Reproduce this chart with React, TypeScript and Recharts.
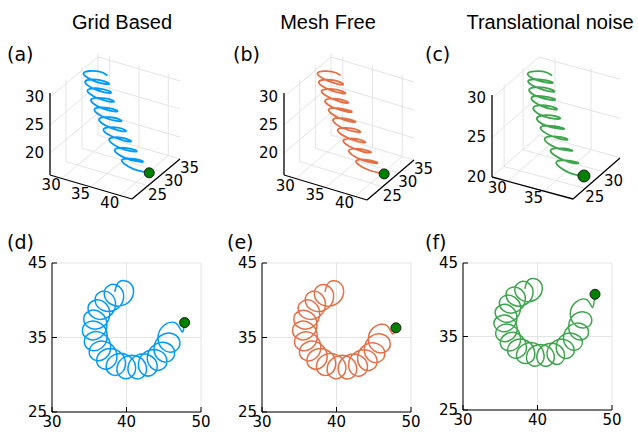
import {
  CartesianGrid,
  ComposedChart,
  Line,
  ReferenceDot,
  Scatter,
  XAxis,
  YAxis,
} from 'recharts';

const WIDTH = 638;
const HEIGHT = 434;
const TOP_HEIGHT = 215;

const TICK_FONT = '"DejaVu Sans", sans-serif';
const TITLE_FONT = '"Liberation Sans", Arial, sans-serif';

const BLUE = '#009afa';
const ORANGE = '#e36f47';
const GREEN = '#3ea44e';
const MARKER = '#008000';
const GRID = '#e4e4e4';

const titles = ['Grid Based', 'Mesh Free', 'Translational noise'];
const topLetters = ['(a)', '(b)', '(c)'];
const bottomLetters = ['(d)', '(e)', '(f)'];

// 3D tick values
const zTicks3d = [20, 25, 30];
const xTicksAB = [30, 35, 40];
const yTicksAB = [25, 30, 35];
const xTicksC = [30, 35];
const yTicksC = [25, 30];

// plan view ticks
const planXTicks = [30, 40, 50];
const planYTicks = [25, 35, 45];

// grid based trajectory (x, y, z)
const gridX = [
  32.0, 30.0, 28.0, 30.1, 32.3, 30.3, 28.3, 30.5, 32.7, 30.8, 28.8, 31.1,
  33.3, 31.4, 29.5, 31.7, 34.0, 32.1, 30.2, 32.5, 34.8, 32.9, 31.1, 33.4,
  35.7, 33.9, 32.0, 34.4, 36.7, 34.9, 33.1, 35.4, 37.8, 36.0, 34.2, 36.6,
  39.0, 37.2, 35.5, 37.9, 40.3,
];
const gridY = [
  30.6, 31.5, 30.6, 29.6, 30.5, 31.4, 30.5, 29.5, 30.4, 31.3, 30.3, 29.4,
  30.2, 31.1, 30.1, 29.2, 30.0, 30.9, 29.9, 29.0, 29.8, 30.6, 29.7, 28.7,
  29.5, 30.4, 29.4, 28.5, 29.3, 30.1, 29.2, 28.2, 29.0, 29.9, 28.9, 28.0,
  28.8, 29.6, 28.7, 27.7, 28.5,
];
const gridZ = [
  30.0, 29.7, 29.3, 29.0, 28.6, 28.3, 27.9, 27.6, 27.2, 26.9, 26.6, 26.2,
  25.9, 25.5, 25.2, 24.8, 24.5, 24.1, 23.8, 23.4, 23.1, 22.8, 22.4, 22.1,
  21.7, 21.4, 21.0, 20.7, 20.3, 20.0, 19.7, 19.3, 19.0, 18.6, 18.3, 17.9,
  17.6, 17.2, 16.9, 16.6, 16.2,
];

// mesh free trajectory
const meshX = [
  31.9, 30.0, 28.1, 30.2, 32.4, 30.3, 28.4, 30.6, 32.8, 30.9, 28.9, 31.2,
  33.4, 31.5, 29.6, 31.8, 34.1, 32.2, 30.3, 32.6, 34.9, 33.0, 31.2, 33.5,
  35.8, 34.0, 32.1, 34.5, 36.8, 35.0, 33.2, 35.5, 37.9, 36.1, 34.3, 36.7,
  39.1, 37.3, 35.6, 38.0, 40.4,
];
const meshY = [
  30.7, 31.5, 30.6, 29.7, 30.5, 31.4, 30.4, 29.5, 30.4, 31.2, 30.3, 29.4,
  30.2, 31.0, 30.1, 29.2, 30.0, 30.8, 29.9, 29.0, 29.7, 30.5, 29.6, 28.7,
  29.5, 30.3, 29.4, 28.4, 29.2, 30.0, 29.1, 28.2, 28.9, 29.8, 28.8, 27.9,
  28.7, 29.5, 28.6, 27.7, 28.5,
];
const meshZ = [
  30.0, 29.7, 29.3, 29.0, 28.6, 28.3, 27.9, 27.6, 27.2, 26.9, 26.5, 26.2,
  25.8, 25.5, 25.1, 24.8, 24.5, 24.1, 23.8, 23.4, 23.1, 22.7, 22.4, 22.0,
  21.7, 21.4, 21.0, 20.7, 20.3, 20.0, 19.6, 19.3, 19.0, 18.6, 18.3, 17.9,
  17.6, 17.2, 16.9, 16.6, 16.2,
];

// translational noise trajectory
const noiseX = [
  31.4, 29.7, 28.1, 29.8, 31.5, 29.9, 28.2, 30.0, 31.8, 30.1, 28.4, 30.2,
  32.0, 30.3, 28.8, 30.7, 32.4, 30.9, 29.3, 31.1, 33.0, 31.5, 30.0, 31.8,
  33.8, 32.2, 30.7, 32.6, 34.5, 33.2, 31.6, 33.5, 35.5, 34.1, 32.7, 34.8,
  36.7, 35.4, 33.9, 36.1, 38.0,
];
const noiseY = [
  30.8, 31.5, 30.7, 30.0, 30.7, 31.4, 30.6, 29.9, 30.6, 31.3, 30.5, 29.7,
  30.4, 31.1, 30.3, 29.4, 30.1, 30.8, 29.9, 29.0, 29.8, 30.4, 29.5, 28.6,
  29.3, 29.9, 29.1, 28.2, 28.8, 29.4, 28.5, 27.6, 28.2, 28.8, 27.9, 26.9,
  27.5, 28.0, 27.1, 26.1, 26.6,
];
const noiseZ = [
  30.0, 29.8, 29.5, 29.3, 29.1, 28.8, 28.6, 28.4, 28.1, 27.9, 27.6, 27.4,
  27.2, 26.9, 26.7, 26.5, 26.2, 26.0, 25.8, 25.5, 25.3, 25.1, 24.8, 24.6,
  24.4, 24.1, 23.9, 23.7, 23.4, 23.2, 23.0, 22.7, 22.5, 22.2, 22.0, 21.8,
  21.5, 21.3, 21.1, 20.8, 20.6,
];

// plan views (x, y), six samples per loop
const gridPlanX = [
  38.43, 39.0, 40.36, 40.93, 39.89, 38.05, 37.02, 37.62, 39.01, 39.61, 38.6, 36.8,
  35.79, 36.43, 37.87, 38.52, 37.56, 35.8, 34.84, 35.54, 37.05, 37.75, 36.85, 35.16,
  34.26, 35.03, 36.6, 37.37, 36.54, 34.91, 34.08, 34.92, 36.57, 37.41, 36.65, 35.1,
  34.34, 35.25, 36.96, 37.87, 37.18, 35.69, 35.0, 35.97, 37.74, 38.71, 38.07, 36.64,
  36.01, 37.02, 38.84, 39.85, 39.26, 37.88, 37.29, 38.33, 40.17, 41.21, 40.65, 39.29,
  38.73, 39.78, 41.62, 42.67, 42.12, 40.76, 40.21, 41.24, 43.08, 44.11, 43.54, 42.18,
  41.61, 42.61, 44.41, 45.41, 44.8, 43.4, 42.8, 43.75, 45.5, 46.45, 45.8, 44.35,
  43.7, 44.59, 46.28, 47.17, 46.45, 44.94, 44.23, 45.05, 46.67, 47.48, 47.8,
];
const gridPlanY = [
  41.14, 42.46, 42.39, 40.93, 39.47, 39.39, 40.71, 41.97, 41.83, 40.31, 38.78, 38.65,
  39.9, 41.1, 40.91, 39.34, 37.76, 37.57, 38.77, 39.93, 39.71, 38.09, 36.47, 36.25,
  37.41, 38.56, 38.31, 36.68, 35.05, 34.8, 35.95, 37.1, 36.85, 35.22, 33.59, 33.34,
  34.49, 35.66, 35.44, 33.83, 32.22, 32.0, 33.17, 34.38, 34.2, 32.63, 31.06, 30.88,
  32.09, 33.36, 33.23, 31.72, 30.2, 30.08, 31.34, 32.67, 32.61, 31.17, 29.72, 29.66,
  30.99, 32.39, 32.41, 31.03, 29.65, 29.67, 31.07, 32.54, 32.62, 31.32, 30.01, 30.09,
  31.56, 33.1, 33.24, 32.0, 30.75, 30.9, 32.43, 34.02, 34.22, 33.03, 31.83, 32.03,
  33.62, 35.24, 35.47, 34.31, 33.16, 33.39, 35.0, 36.64, 36.89, 35.74, 37.0,
];
const meshPlanX = [
  38.45, 39.03, 40.38, 40.94, 39.9, 38.07, 37.04, 37.63, 39.02, 39.6, 38.61, 36.82,
  35.81, 36.44, 37.86, 38.51, 37.57, 35.82, 34.86, 35.55, 37.04, 37.74, 36.86, 35.18,
  34.27, 35.04, 36.61, 37.38, 36.55, 34.93, 34.1, 34.93, 36.58, 37.43, 36.67, 35.12,
  34.37, 35.28, 36.98, 37.89, 37.21, 35.72, 35.03, 36.0, 37.77, 38.74, 38.1, 36.67,
  36.04, 37.05, 38.87, 39.88, 39.29, 37.91, 37.32, 38.36, 40.2, 41.24, 40.68, 39.32,
  38.76, 39.81, 41.65, 42.7, 42.15, 40.79, 40.24, 41.27, 43.11, 44.14, 43.57, 42.21,
  41.64, 42.64, 44.44, 45.44, 44.83, 43.43, 42.83, 43.78, 45.53, 46.48, 45.83, 44.38,
  43.74, 44.63, 46.32, 47.21, 46.49, 44.98, 44.28, 45.1, 46.72, 47.52, 47.98,
];
const meshPlanY = [
  41.13, 42.45, 42.38, 40.92, 39.46, 39.38, 40.7, 41.96, 41.82, 40.3, 38.77, 38.64,
  39.89, 41.09, 40.9, 39.33, 37.75, 37.56, 38.76, 39.92, 39.7, 38.08, 36.46, 36.24,
  37.4, 38.55, 38.3, 36.67, 35.04, 34.79, 35.94, 37.09, 36.84, 35.21, 33.58, 33.33,
  34.48, 35.65, 35.43, 33.82, 32.21, 31.99, 33.16, 34.37, 34.19, 32.62, 31.05, 30.87,
  32.08, 33.35, 33.22, 31.71, 30.19, 30.07, 31.33, 32.66, 32.6, 31.16, 29.71, 29.65,
  30.98, 32.38, 32.4, 31.02, 29.64, 29.66, 31.05, 32.52, 32.6, 31.3, 29.99, 30.07,
  31.53, 33.07, 33.2, 31.96, 30.71, 30.86, 32.38, 33.96, 34.15, 32.96, 31.76, 31.95,
  33.53, 35.14, 35.36, 34.2, 33.05, 33.27, 34.85, 36.42, 36.62, 35.5, 36.3,
];
const noisePlanX = [
  38.3, 38.83, 40.11, 40.63, 39.66, 37.94, 36.97, 37.53, 38.83, 39.39, 38.44, 36.75,
  35.8, 36.3, 37.75, 38.35, 37.44, 35.79, 34.89, 35.55, 36.95, 37.73, 36.76, 35.17,
  34.32, 35.04, 36.51, 37.24, 36.46, 34.93, 34.15, 34.94, 36.38, 37.27, 36.56, 35.1,
  34.39, 35.24, 36.85, 37.71, 37.18, 35.67, 35.02, 35.93, 37.59, 38.51, 37.92, 36.58,
  35.99, 36.94, 38.64, 39.6, 39.17, 37.75, 37.2, 38.17, 39.9, 40.87, 40.34, 39.07,
  38.54, 39.52, 41.25, 42.24, 41.72, 40.45, 39.93, 40.91, 42.63, 43.61, 43.09, 41.81,
  41.29, 42.25, 43.95, 44.91, 44.37, 43.07, 42.53, 43.44, 45.1, 46.01, 45.42, 44.08,
  43.49, 44.36, 45.97, 46.84, 46.2, 44.82, 44.18, 44.97, 46.5, 47.29, 46.58, 45.12,
  44.4, 45.15, 46.65, 47.4, 47.72,
];
const noisePlanY = [
  41.48, 42.73, 42.67, 41.32, 39.97, 39.91, 41.16, 42.34, 42.23, 40.81, 39.39, 39.28,
  40.46, 41.59, 41.42, 39.95, 38.48, 38.31, 39.44, 40.53, 40.32, 38.82, 37.19, 37.1,
  38.19, 39.26, 39.04, 37.51, 35.98, 35.76, 36.83, 37.79, 37.68, 36.16, 34.63, 34.41,
  35.48, 36.58, 36.38, 34.88, 33.37, 33.17, 34.27, 35.41, 35.25, 33.67, 32.32, 32.16,
  33.3, 34.49, 34.39, 32.98, 31.57, 31.47, 32.66, 33.92, 33.99, 32.53, 31.19, 31.14,
  32.4, 33.71, 33.72, 32.44, 31.15, 31.16, 32.47, 33.84, 33.92, 32.69, 31.34, 31.54,
  32.91, 34.35, 34.48, 33.32, 32.16, 32.29, 33.73, 35.23, 35.31, 34.34, 33.24, 33.44,
  34.94, 36.49, 36.73, 35.68, 34.63, 34.87, 36.42, 38.0, 38.28, 37.26, 36.24, 36.52,
  38.1, 39.68, 39.97, 38.95, 40.74,
];

type P3 = [number, number, number];

interface Box3D {
  // screen position of the (xmin, ymin, zmin) corner and the screen
  // vectors spanned by each full axis range
  origin: [number, number];
  ex: [number, number];
  ey: [number, number];
  ez: [number, number];
  xRange: [number, number];
  yRange: [number, number];
  zRange: [number, number];
  xTicks: number[];
  yTicks: number[];
  zTicks: number[];
}

interface Panel3D {
  box: Box3D;
  xs: number[];
  ys: number[];
  zs: number[];
  color: string;
  markerR: number;
}

const boxA: Box3D = {
  origin: [50, 175],
  ex: [82, 24],
  ey: [48, -40],
  ez: [0, -82],
  xRange: [28, 42],
  yRange: [20, 35],
  zRange: [16.1, 30.7],
  xTicks: xTicksAB,
  yTicks: yTicksAB,
  zTicks: zTicks3d,
};
const boxB: Box3D = { ...boxA, origin: [284, 175], ex: [83, 25], ey: [47, -40] };
const boxC: Box3D = {
  origin: [492, 177],
  ex: [81, 22],
  ey: [47, -41],
  ez: [0, -82],
  xRange: [27.8, 39.0],
  yRange: [21.8, 34.2],
  zRange: [19.94, 30.4],
  xTicks: xTicksC,
  yTicks: yTicksC,
  zTicks: zTicks3d,
};

const panels3d: Panel3D[] = [
  { box: boxA, xs: gridX, ys: gridY, zs: gridZ, color: BLUE, markerR: 5 },
  { box: boxB, xs: meshX, ys: meshY, zs: meshZ, color: ORANGE, markerR: 5 },
  { box: boxC, xs: noiseX, ys: noiseY, zs: noiseZ, color: GREEN, markerR: 6 },
];

function project(box: Box3D, x: number, y: number, z: number) {
  const nx = (x - box.xRange[0]) / (box.xRange[1] - box.xRange[0]);
  const ny = (y - box.yRange[0]) / (box.yRange[1] - box.yRange[0]);
  const nz = (z - box.zRange[0]) / (box.zRange[1] - box.zRange[0]);
  const sx = box.origin[0] + nx * box.ex[0] + ny * box.ey[0] + nz * box.ez[0];
  const sy = box.origin[1] + nx * box.ex[1] + ny * box.ey[1] + nz * box.ez[1];
  return { u: sx, v: TOP_HEIGHT - sy };
}

function toPath(box: Box3D, segs: [P3, P3][]) {
  const out: { u: number; v: number | null }[] = [];
  segs.forEach(([a, b]) => {
    const pa = project(box, a[0], a[1], a[2]);
    const pb = project(box, b[0], b[1], b[2]);
    out.push(pa, pb, { u: pb.u, v: null });
  });
  return out;
}

// grid on the three back planes: x = xmin wall, y = ymax wall, floor
function gridPath(box: Box3D) {
  const [x0, x1] = box.xRange;
  const [y0, y1] = box.yRange;
  const [z0, z1] = box.zRange;
  const segs: [P3, P3][] = [];
  box.zTicks.forEach((z) => {
    segs.push([[x0, y0, z], [x0, y1, z]]);
    segs.push([[x0, y1, z], [x1, y1, z]]);
  });
  box.yTicks.forEach((y) => {
    segs.push([[x0, y, z0], [x0, y, z1]]);
    segs.push([[x0, y, z0], [x1, y, z0]]);
  });
  box.xTicks.forEach((x) => {
    segs.push([[x, y1, z0], [x, y1, z1]]);
    segs.push([[x, y0, z0], [x, y1, z0]]);
  });
  return toPath(box, segs);
}

function axesPath(box: Box3D) {
  const [x0, x1] = box.xRange;
  const [y0, y1] = box.yRange;
  const [z0, z1] = box.zRange;
  return toPath(box, [
    [[x0, y0, z0], [x0, y0, z1]],
    [[x0, y0, z0], [x1, y0, z0]],
    [[x1, y0, z0], [x1, y1, z0]],
  ]);
}

function tickLabels(box: Box3D) {
  const [x0, x1] = box.xRange;
  const [y0] = box.yRange;
  const [z0] = box.zRange;
  return [
    ...box.zTicks.map((t) => ({
      ...project(box, x0, y0, t),
      text: String(t),
      anchor: 'end',
      dx: -6,
      dy: 0,
    })),
    ...box.xTicks.map((t) => ({
      ...project(box, t, y0, z0),
      text: String(t),
      anchor: 'end',
      dx: -1,
      dy: 7,
    })),
    ...box.yTicks.map((t) => ({
      ...project(box, x1, t, z0),
      text: String(t),
      anchor: 'start',
      dx: 0,
      dy: 9,
    })),
  ];
}

function TickText(props: any) {
  const { cx, cy, payload } = props;
  return (
    <text
      x={cx + payload.dx}
      y={cy + payload.dy}
      textAnchor={payload.anchor}
      dominantBaseline="central"
      fontSize={15}
      fontFamily={TICK_FONT}
      fill="#000"
    >
      {payload.text}
    </text>
  );
}

function TopRow() {
  const layers = panels3d.flatMap((p, i) => {
    const curve = p.xs.map((x, k) => project(p.box, x, p.ys[k], p.zs[k]));
    const end = curve[curve.length - 1];
    return [
      <Line
        key={`grid-${i}`}
        data={gridPath(p.box)}
        dataKey="v"
        stroke={GRID}
        strokeWidth={1}
        dot={false}
        activeDot={false}
        connectNulls={false}
        isAnimationActive={false}
      />,
      <Line
        key={`axes-${i}`}
        data={axesPath(p.box)}
        dataKey="v"
        stroke="#000"
        strokeWidth={1.3}
        dot={false}
        activeDot={false}
        connectNulls={false}
        isAnimationActive={false}
      />,
      <Line
        key={`curve-${i}`}
        data={curve}
        dataKey="v"
        type="natural"
        stroke={p.color}
        strokeWidth={1.8}
        dot={false}
        activeDot={false}
        isAnimationActive={false}
      />,
      <Scatter
        key={`ticks-${i}`}
        data={tickLabels(p.box)}
        shape={TickText}
        isAnimationActive={false}
      />,
      <ReferenceDot
        key={`end-${i}`}
        x={end.u}
        y={end.v}
        r={p.markerR}
        fill={MARKER}
        stroke="#1a1a1a"
        strokeWidth={1}
      />,
    ];
  });

  return (
    <ComposedChart
      width={WIDTH}
      height={TOP_HEIGHT}
      margin={{ top: 0, right: 0, bottom: 0, left: 0 }}
    >
      <XAxis type="number" dataKey="u" domain={[0, WIDTH]} hide allowDataOverflow />
      <YAxis type="number" dataKey="v" domain={[0, TOP_HEIGHT]} hide allowDataOverflow />
      {layers}
    </ComposedChart>
  );
}

interface PlanProps {
  left: number;
  xs: number[];
  ys: number[];
  color: string;
  plotHeight: number;
  axisHeight: number;
}

function PlanPanel({ left, xs, ys, color, plotHeight, axisHeight }: PlanProps) {
  const data = xs.map((x, i) => ({ x, y: ys[i] }));
  const end = data[data.length - 1];
  const tickStyle = { fill: '#000', fontSize: 15, fontFamily: TICK_FONT };
  return (
    <div style={{ position: 'absolute', left, top: 240 }}>
      <ComposedChart
        width={215}
        height={23 + plotHeight + axisHeight}
        margin={{ top: 23, right: 14, bottom: 0, left: 0 }}
      >
        <CartesianGrid stroke={GRID} />
        <XAxis
          type="number"
          dataKey="x"
          domain={[30, 50]}
          ticks={planXTicks}
          interval={0}
          height={axisHeight}
          axisLine={{ stroke: '#000' }}
          tickLine={{ stroke: '#000' }}
          tickSize={-5}
          tickMargin={9}
          tick={tickStyle}
          allowDataOverflow
        />
        <YAxis
          type="number"
          dataKey="y"
          domain={[25, 45]}
          ticks={planYTicks}
          interval={0}
          width={52}
          axisLine={{ stroke: '#000' }}
          tickLine={{ stroke: '#000' }}
          tickSize={-5}
          tickMargin={10}
          tick={tickStyle}
          allowDataOverflow
        />
        <Line
          data={data}
          dataKey="y"
          type="natural"
          stroke={color}
          strokeWidth={1.5}
          dot={false}
          activeDot={false}
          isAnimationActive={false}
        />
        <ReferenceDot
          x={end.x}
          y={end.y}
          r={5}
          fill={MARKER}
          stroke="#1a1a1a"
          strokeWidth={1}
        />
      </ComposedChart>
    </div>
  );
}

export default function App() {
  const titleX = [122, 328, 550];
  const topLetterX = [7, 233, 425];
  const bottomLetterX = [7, 227, 425];
  return (
    <div
      style={{
        position: 'absolute',
        left: 0,
        top: 0,
        width: WIDTH,
        height: HEIGHT,
        background: '#fff',
        overflow: 'hidden',
      }}
    >
      <div style={{ position: 'absolute', left: 0, top: 0 }}>
        <TopRow />
      </div>
      <PlanPanel left={0} xs={gridPlanX} ys={gridPlanY} color={BLUE} plotHeight={149} axisHeight={22} />
      <PlanPanel left={210} xs={meshPlanX} ys={meshPlanY} color={ORANGE} plotHeight={149} axisHeight={22} />
      <PlanPanel left={411} xs={noisePlanX} ys={noisePlanY} color={GREEN} plotHeight={147} axisHeight={24} />
      <svg
        width={WIDTH}
        height={HEIGHT}
        style={{ position: 'absolute', left: 0, top: 0, pointerEvents: 'none' }}
      >
        {titles.map((t, i) => (
          <text
            key={t}
            x={titleX[i]}
            y={29}
            textAnchor="middle"
            fontSize={20}
            fontFamily={TITLE_FONT}
            fill="#000"
          >
            {t}
          </text>
        ))}
        {topLetters.map((t, i) => (
          <text key={t} x={topLetterX[i]} y={61} fontSize={19} fontFamily={TICK_FONT} fill="#000">
            {t}
          </text>
        ))}
        {bottomLetters.map((t, i) => (
          <text key={t} x={bottomLetterX[i]} y={249} fontSize={19} fontFamily={TICK_FONT} fill="#000">
            {t}
          </text>
        ))}
      </svg>
    </div>
  );
}
